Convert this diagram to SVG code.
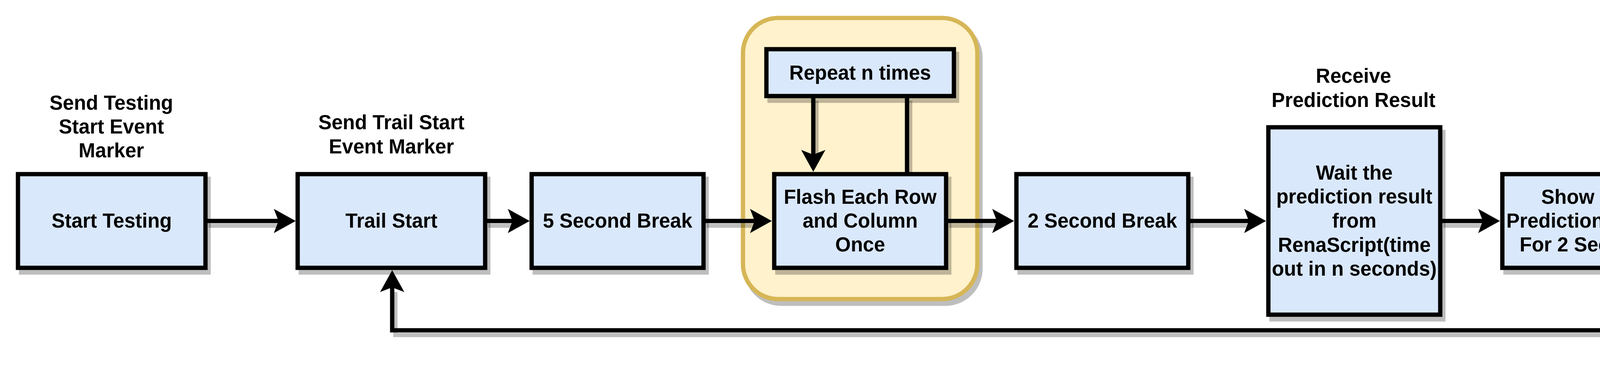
<svg xmlns="http://www.w3.org/2000/svg" width="5824" height="940" viewBox="0 0 5824 940">
<defs>
<style>
.box{fill:#dae8fc;stroke:#000;stroke-width:11}
.cont{fill:#fff2cc;stroke:#d6b656;stroke-width:11}
.shd{fill:#000;stroke:#000;stroke-width:11;opacity:.25}
.ln{fill:none;stroke:#000;stroke-width:11}
.lshd{fill:none;stroke:#000;stroke-width:11;opacity:.25}
.dash{stroke-dasharray:36 36}
.t{font-family:"Liberation Sans",Arial,Helvetica,sans-serif;font-weight:bold;font-size:51px;text-anchor:middle;fill:#000}
</style>
<marker id="arr" markerUnits="userSpaceOnUse" markerWidth="56" markerHeight="62" viewBox="0 0 56 62" refX="12" refY="31" orient="auto"><path d="M0,0 L56,31 L0,62 L12,31 Z" fill="#000"/></marker>
</defs>
<rect width="5824" height="940" fill="#fff"/>

<g id="loop-container">
<rect class="shd" transform="translate(8,12)" x="1902" y="46" width="600" height="720" rx="90" ry="90"/>
<rect class="cont" x="1902" y="46" width="600" height="720" rx="90" ry="90"/>
</g>

<g id="connectors">
<g id="connector-shadows" transform="translate(8,12)">
<path class="lshd" d="M526,566 H713"/>
<path class="lshd" d="M1242,566 H1312"/>
<path class="lshd" d="M1801,566 H1932"/>
<path class="lshd" d="M2422,566 H2552"/>
<path class="lshd" d="M3042,566 H3197"/>
<path class="lshd" d="M3687,566 H3796"/>
<path class="lshd" d="M4286,566 H4396"/>
<path class="lshd dash" d="M4886,566 H5196"/>
<path class="lshd" d="M4666,706 V846 H1004 V736"/>
<path class="lshd" d="M2082,246 V396"/>
<path class="lshd" d="M2322,446 V246"/>
</g>
<path class="ln" d="M526,566 H713" marker-end="url(#arr)"/>
<path class="ln" d="M1242,566 H1312" marker-end="url(#arr)"/>
<path class="ln" d="M1801,566 H1932" marker-end="url(#arr)"/>
<path class="ln" d="M2422,566 H2552" marker-end="url(#arr)"/>
<path class="ln" d="M3042,566 H3197" marker-end="url(#arr)"/>
<path class="ln" d="M3687,566 H3796" marker-end="url(#arr)"/>
<path class="ln" d="M4286,566 H4396" marker-end="url(#arr)"/>
<path class="ln dash" d="M4886,566 H5196" marker-end="url(#arr)"/>
<path class="ln" d="M4666,706 V846 H1004 V736" marker-end="url(#arr)"/>
<path class="ln" d="M2082,246 V396" marker-end="url(#arr)"/>
<path class="ln" d="M2322,446 V246"/>
<text class="t" x="5066" y="524">Interrupted</text>
</g>

<g id="label-testing-start">
<text class="t" x="285" y="281">Send Testing</text>
<text class="t" x="285" y="342">Start Event</text>
<text class="t" x="285" y="403">Marker</text>
</g>

<g id="start-testing">
<rect class="shd" transform="translate(8,12)" x="46" y="446" width="480" height="240"/>
<rect class="box" x="46" y="446" width="480" height="240"/>
<text class="t" x="286" y="583">Start Testing</text>
</g>

<g id="label-trail-start">
<text class="t" x="1002" y="331">Send Trail Start</text>
<text class="t" x="1002" y="393">Event Marker</text>
</g>

<g id="trail-start">
<rect class="shd" transform="translate(8,12)" x="762" y="446" width="480" height="240"/>
<rect class="box" x="762" y="446" width="480" height="240"/>
<text class="t" x="1002" y="583">Trail Start</text>
</g>

<g id="five-second-break">
<rect class="shd" transform="translate(8,12)" x="1361" y="446" width="440" height="240"/>
<rect class="box" x="1361" y="446" width="440" height="240"/>
<text class="t" x="1581" y="583">5 Second Break</text>
</g>

<g id="repeat-n-times">
<rect class="shd" transform="translate(8,12)" x="1962" y="126" width="480" height="120"/>
<rect class="box" x="1962" y="126" width="480" height="120"/>
<text class="t" x="2202" y="204">Repeat n times</text>
</g>

<g id="flash-each-row">
<rect class="shd" transform="translate(8,12)" x="1982" y="446" width="440" height="240"/>
<rect class="box" x="1982" y="446" width="440" height="240"/>
<text class="t" x="2202" y="522">Flash Each Row</text>
<text class="t" x="2202" y="583">and Column</text>
<text class="t" x="2202" y="644">Once</text>
</g>

<g id="two-second-break">
<rect class="shd" transform="translate(8,12)" x="2602" y="446" width="440" height="240"/>
<rect class="box" x="2602" y="446" width="440" height="240"/>
<text class="t" x="2822" y="583">2 Second Break</text>
</g>

<g id="label-receive">
<text class="t" x="3465" y="212">Receive</text>
<text class="t" x="3465" y="274">Prediction Result</text>
</g>

<g id="wait-prediction">
<rect class="shd" transform="translate(8,12)" x="3247" y="326" width="440" height="480"/>
<rect class="box" x="3247" y="326" width="440" height="480"/>
<text class="t" x="3467" y="460">Wait the</text>
<text class="t" x="3467" y="521">prediction result</text>
<text class="t" x="3467" y="583">from</text>
<text class="t" x="3467" y="645">RenaScript(time</text>
<text class="t" x="3467" y="706">out in n seconds)</text>
</g>

<g id="show-prediction">
<rect class="shd" transform="translate(8,12)" x="3846" y="446" width="440" height="240"/>
<rect class="box" x="3846" y="446" width="440" height="240"/>
<text class="t" x="4066" y="522">Show The</text>
<text class="t" x="4066" y="583">Prediction Result</text>
<text class="t" x="4066" y="644">For 2 Seconds</text>
</g>

<g id="label-trail-end">
<text class="t" x="4666" y="311">Send Trail End</text>
<text class="t" x="4666" y="373">Event Marker</text>
</g>

<g id="trail-end">
<rect class="shd" transform="translate(8,12)" x="4446" y="426" width="440" height="280"/>
<rect class="box" x="4446" y="426" width="440" height="280"/>
<text class="t" x="4666" y="583">Trail End</text>
</g>

<g id="label-testing-end">
<text class="t" x="5490" y="332">Send Testing</text>
<text class="t" x="5490" y="394">End Event Marker</text>
</g>

<g id="end-testing">
<rect class="shd" transform="translate(8,12)" x="5246" y="446" width="480" height="240"/>
<rect class="box" x="5246" y="446" width="480" height="240"/>
<text class="t" x="5486" y="553">End Testing</text>
<text class="t" x="5486" y="614">(Interrupted)</text>
</g>
</svg>
